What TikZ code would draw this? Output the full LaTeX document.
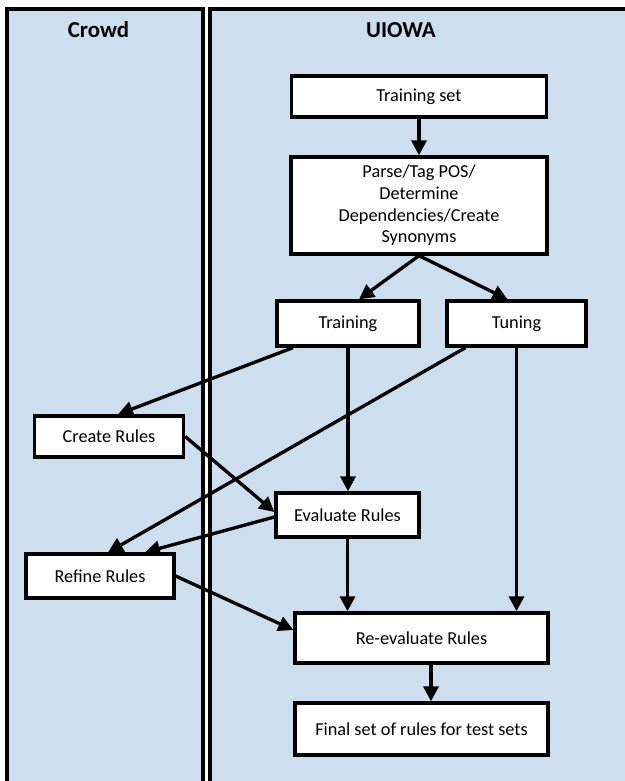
\documentclass[tikz,border=0pt]{standalone}
\usepackage{fontspec}
\setmainfont{Carlito}
\usetikzlibrary{arrows.meta}

\definecolor{lanefill}{RGB}{205,223,238}

\tikzset{
    lane/.style={fill=lanefill, draw=black, line width=1.9pt},
    lanetitle/.style={font=\fontsize{13}{15}\selectfont\bfseries},
    stepbox/.style={draw=black, fill=white, line width=1.9pt, inner sep=0pt,
        align=center, font=\fontsize{10.4}{12.3}\selectfont},
    arr/.style={line width=1.9pt, -{Triangle[length=0.3cm, width=0.3cm]}}
}

\begin{document}
\begin{tikzpicture}[x=0.02cm, y=-0.02cm]
    \clip (0,0) rectangle (625,781);
    \fill[white] (0,0) rectangle (625,781);

    % swim lanes
    \draw[lane] (7,9) rectangle (203,800);
    \draw[lane] (210,9) rectangle (640,800);
    \node[lanetitle] (crowd) at (98.5,30) {Crowd};
    \node[lanetitle] (uiowa) at (401,30) {UIOWA};

    % UIOWA side
    \node[stepbox, minimum width=5.1cm, minimum height=0.82cm] (trset) at (419,96.5) {Training set};
    \node[stepbox, minimum width=5.12cm, minimum height=1.94cm] (parse) at (419,205.5)
        {Parse/Tag POS/\\Determine\\Dependencies/Create\\Synonyms};
    \node[stepbox, minimum width=2.84cm, minimum height=0.9cm] (train) at (348,323.5) {Training};
    \node[stepbox, minimum width=2.78cm, minimum height=0.9cm] (tune) at (516.5,323.5) {Tuning};
    \node[stepbox, minimum width=2.86cm, minimum height=0.88cm] (eval) at (347.5,515) {Evaluate Rules};
    \node[stepbox, minimum width=5.06cm, minimum height=1.0cm] (reeval) at (421.5,638) {Re-evaluate Rules};
    \node[stepbox, minimum width=5.06cm, minimum height=1.04cm] (final) at (421.5,729) {Final set of rules for test sets};

    % Crowd side
    \node[stepbox, minimum width=2.98cm, minimum height=0.82cm] (create) at (109,436.5) {Create Rules};
    \node[stepbox, minimum width=2.96cm, minimum height=0.88cm] (refine) at (100,576) {Refine Rules};

    % connectors
    \draw[arr] (trset) -- (parse);
    \draw[arr] (parse.south) -- ([xshift=0.22cm]train.north);
    \draw[arr] (parse.south) -- ([xshift=-0.18cm]tune.north);
    \draw[arr] ([xshift=-1.1cm]train.south) -- ([xshift=0.18cm]create.north);
    \draw[arr] (train.south) -- (train.south |- eval.north);
    \draw[arr] ([xshift=-1.02cm]tune.south) -- ([xshift=0.16cm]refine.north);
    \draw[arr] (tune.south) -- (tune.south |- reeval.north);
    \draw[arr] (create.east) -- ([yshift=0.06cm]eval.west);
    \draw[arr] ([yshift=-0.04cm]eval.west) -- ([xshift=0.9cm]refine.north);
    \draw[arr] (eval.south) -- (eval.south |- reeval.north);
    \draw[arr] (refine.east) -- ([yshift=0.16cm]reeval.west);
    \draw[arr] ([xshift=0.19cm]reeval.south) -- ([xshift=0.19cm]final.north);
\end{tikzpicture}
\end{document}
